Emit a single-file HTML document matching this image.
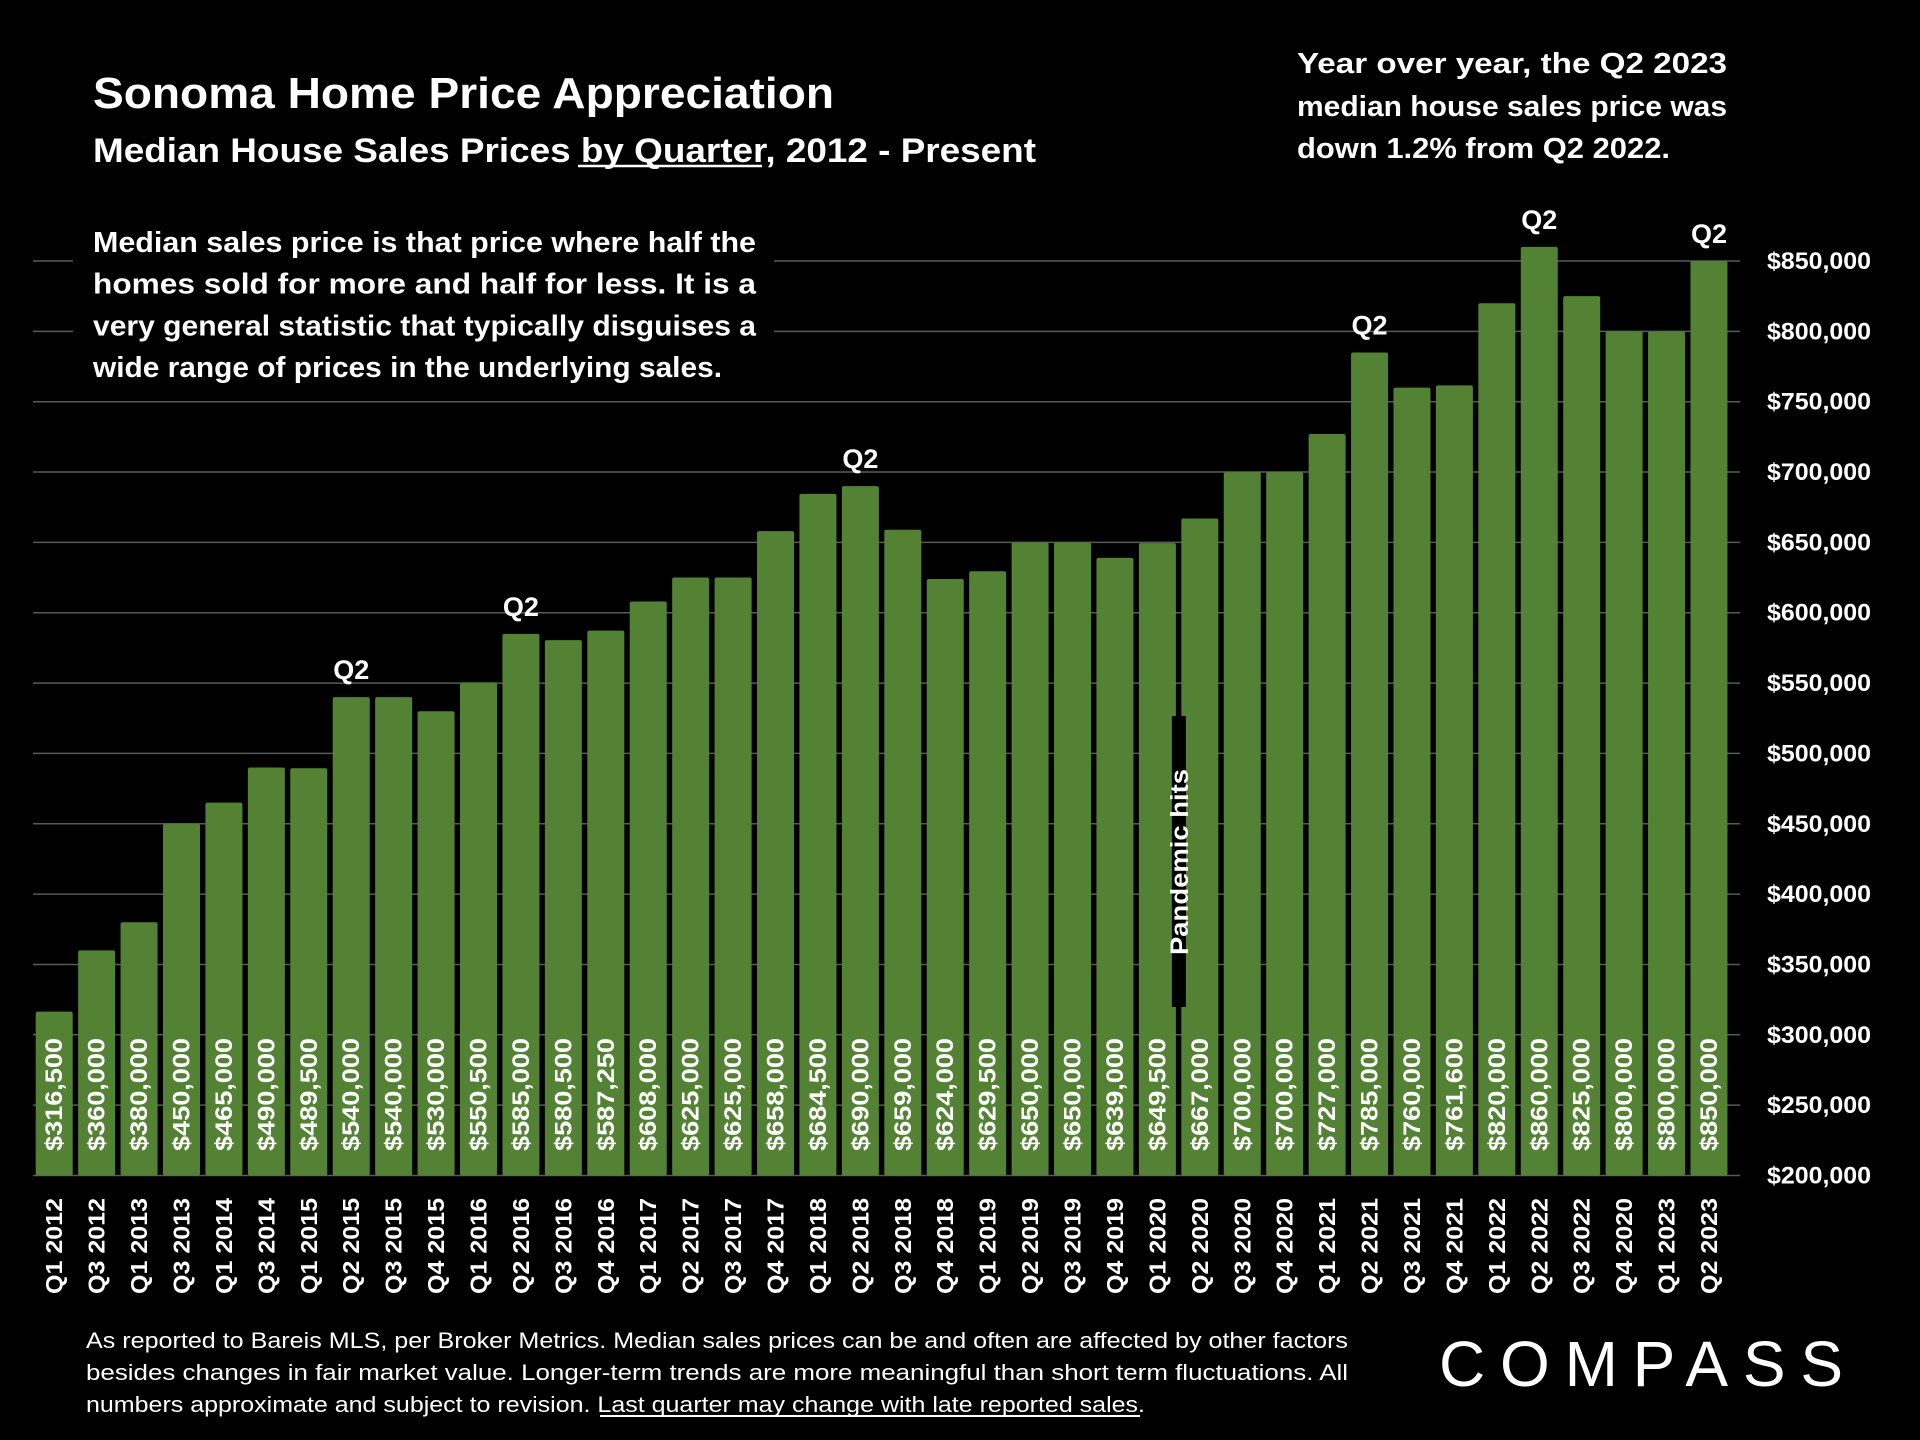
<!DOCTYPE html>
<html><head><meta charset="utf-8"><style>
html,body{margin:0;padding:0;background:#000;}
svg{display:block;font-family:"Liberation Sans",sans-serif;font-weight:bold;}
</style></head><body>
<svg id="chart" width="1920" height="1440" viewBox="0 0 1920 1440">
<rect x="0" y="0" width="1920" height="1440" fill="#000"/>
<g id="grid"></g><g id="bars"></g><g id="labels"></g>
<text x="93" y="108" fill="#fff" font-size="44" textLength="741" lengthAdjust="spacingAndGlyphs">Sonoma Home Price Appreciation</text>
<text x="93" y="162" fill="#fff" font-size="34" textLength="943" lengthAdjust="spacingAndGlyphs">Median House Sales Prices by Quarter, 2012 - Present</text>
<line x1="578" y1="166" x2="762" y2="166" stroke="#fff" stroke-width="2.5"/>
<g fill="#fff" font-size="29">
<text x="1297" y="73" textLength="430" lengthAdjust="spacingAndGlyphs">Year over year, the Q2 2023</text>
<text x="1297" y="116" textLength="430" lengthAdjust="spacingAndGlyphs">median house sales price was</text>
<text x="1297" y="158" textLength="373" lengthAdjust="spacingAndGlyphs">down 1.2% from Q2 2022.</text>
</g>
<g id="footer" fill="#fff" font-size="22">
<text x="86" y="1348" textLength="1262" lengthAdjust="spacingAndGlyphs" style="font-weight:normal">As reported to Bareis MLS, per Broker Metrics. Median sales prices can be and often are affected by other factors</text>
<text x="86" y="1380" textLength="1262" lengthAdjust="spacingAndGlyphs" style="font-weight:normal">besides changes in fair market value. Longer-term trends are more meaningful than short term fluctuations. All</text>
<text x="86" y="1412" textLength="1059" lengthAdjust="spacingAndGlyphs" style="font-weight:normal">numbers approximate and subject to revision. Last quarter may change with late reported sales.</text>
<line x1="600" y1="1416" x2="1140" y2="1416" stroke="#fff" stroke-width="2"/>
</g>
<g>
<text x="1439" y="1386" fill="#fff" font-size="64" style="font-weight:normal" textLength="404" lengthAdjust="spacing">COMPASS</text>
</g>
</svg>
<script>
const categories=["Q1 2012","Q3 2012","Q1 2013","Q3 2013","Q1 2014","Q3 2014","Q1 2015","Q2 2015","Q3 2015","Q4 2015","Q1 2016","Q2 2016","Q3 2016","Q4 2016","Q1 2017","Q2 2017","Q3 2017","Q4 2017","Q1 2018","Q2 2018","Q3 2018","Q4 2018","Q1 2019","Q2 2019","Q3 2019","Q4 2019","Q1 2020","Q2 2020","Q3 2020","Q4 2020","Q1 2021","Q2 2021","Q3 2021","Q4 2021","Q1 2022","Q2 2022","Q3 2022","Q4 2020","Q1 2023","Q2 2023"];
const values=[316500,360000,380000,450000,465000,490000,489500,540000,540000,530000,550500,585000,580500,587250,608000,625000,625000,658000,684500,690000,659000,624000,629500,650000,650000,639000,649500,667000,700000,700000,727000,785000,760000,761600,820000,860000,825000,800000,800000,850000];
const valueLabels=["$316,500","$360,000","$380,000","$450,000","$465,000","$490,000","$489,500","$540,000","$540,000","$530,000","$550,500","$585,000","$580,500","$587,250","$608,000","$625,000","$625,000","$658,000","$684,500","$690,000","$659,000","$624,000","$629,500","$650,000","$650,000","$639,000","$649,500","$667,000","$700,000","$700,000","$727,000","$785,000","$760,000","$761,600","$820,000","$860,000","$825,000","$800,000","$800,000","$850,000"];
const yTicks=[200000,250000,300000,350000,400000,450000,500000,550000,600000,650000,700000,750000,800000,850000];
const yTickLabels=["$200,000","$250,000","$300,000","$350,000","$400,000","$450,000","$500,000","$550,000","$600,000","$650,000","$700,000","$750,000","$800,000","$850,000"];
const q2Highlights=[7,11,19,31,35,39];
const NS="http://www.w3.org/2000/svg";
const X0=33,PITCH=42.43,BW=37,Y200=1175.5,Y850=261;
function y(v){return Y200-(v-200000)*(Y200-Y850)/650000;}
function xl(i){return X0+i*PITCH+(PITCH-BW)/2;}
function mk(tag,attrs,parent){const e=document.createElementNS(NS,tag);for(const k in attrs)e.setAttribute(k,attrs[k]);parent.appendChild(e);return e;}
const grid=document.getElementById('grid'),bars=document.getElementById('bars'),labels=document.getElementById('labels');
yTicks.forEach((t,i)=>{
 const l=mk('line',{x1:33,x2:1740,y1:y(t),y2:y(t),stroke:'#5a5a5a','stroke-width':1.5},grid);
 
 
 const tx=mk('text',{x:1871,y:y(t)+8,fill:'#fff','font-size':24,'text-anchor':'end',textLength:104,lengthAdjust:'spacingAndGlyphs'},labels);
 tx.textContent=yTickLabels[i];
 
 
});
const pb=mk('rect',{x:73,y:220,width:701,height:172,fill:'#000'},grid);


const para=[["Median sales price is that price where half the",663],["homes sold for more and half for less. It is a",663],["very general statistic that typically disguises a",663],["wide range of prices in the underlying sales.",629]];
para.forEach((p,i)=>{
 const t=mk('text',{x:93,y:252+i*41.7,fill:'#fff','font-size':29,textLength:p[1],lengthAdjust:'spacingAndGlyphs'},labels);
 t.textContent=p[0];
 
 
});
values.forEach((v,i)=>{
 const x=xl(i),top=y(v);
 const r=mk('rect',{x:x,y:top,width:BW,height:Y200-top,fill:'#548235',rx:2},bars);
 
 
 const cx=x+BW/2;
 const vt=mk('text',{x:0,y:0,fill:'#fff','font-size':24,transform:`translate(${cx+8},1151) rotate(-90)`,textLength:113,lengthAdjust:'spacingAndGlyphs'},labels);
 vt.textContent=valueLabels[i];
 
 
 const ct=mk('text',{x:0,y:0,fill:'#fff','font-size':23,'text-anchor':'end',transform:`translate(${cx+8},1198) rotate(-90)`,textLength:96,lengthAdjust:'spacingAndGlyphs'},labels);
 ct.textContent=categories[i];
 
 
});
q2Highlights.forEach(i=>{
 const t=mk('text',{x:xl(i)+BW/2,y:y(values[i])-18,fill:'#fff','font-size':27,'text-anchor':'middle'},labels);
 t.textContent='Q2';
 
 
});
const pi=categories.indexOf('Q1 2020');
const pcx=xl(pi)+BW+3;
const pr=mk('rect',{x:pcx-7,y:716,width:14,height:291,fill:'#000'},labels);


const pt=mk('text',{x:0,y:0,fill:'#fff','font-size':25,'text-anchor':'middle',transform:`translate(${pcx+9},862) rotate(-90)`,textLength:186,lengthAdjust:'spacingAndGlyphs'},labels);
pt.textContent='Pandemic hits';


</script>
</body></html>
